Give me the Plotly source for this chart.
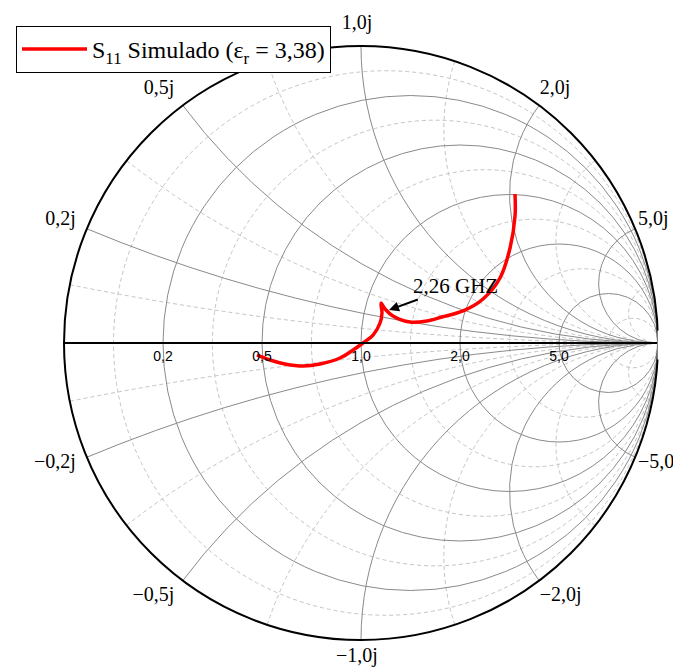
import plotly.graph_objects as go

# S11 simulated impedance (normalized)
s11_real = [0.480, 0.528, 0.587, 0.666, 0.751, 0.864, 0.947, 1.013, 1.083, 1.126,
            1.127, 1.101, 1.143, 1.218, 1.378, 1.548, 1.710, 1.966, 2.193, 2.215,
            1.843, 1.322, 0.992]
s11_imag = [-0.044, -0.067, -0.089, -0.108, -0.109, -0.088, -0.045, 0.0, 0.058, 0.153,
            0.231, 0.303, 0.267, 0.226, 0.201, 0.243, 0.326, 0.487, 0.803, 1.323,
            1.825, 2.063, 2.075]

major_r = [0.2, 0.5, 1.0, 2.0, 5.0]
major_x = [-5.0, -2.0, -1.0, -0.5, -0.2, 0.2, 0.5, 1.0, 2.0, 5.0]
minor_r = [0.0909, 0.333, 0.714, 1.4, 3.0, 11.0]
minor_x = [-10.1, -2.91, -1.387, -0.721, -0.343, -0.099, 0.099, 0.343, 0.721, 1.387, 2.91, 10.1]

W, H = 681, 670
domain = dict(x=[56 / W, 650 / W], y=[1 - 632 / H, 1 - 38 / H])
label_domain = dict(x=[52 / W, 646 / W], y=[1 - 626 / H, 1 - 32 / H])

fig = go.Figure()
fig.add_trace(go.Scattersmith(real=[], imag=[], subplot='smith', showlegend=False,
                              hoverinfo='skip'))
fig.add_trace(go.Scattersmith(
    real=s11_real, imag=s11_imag, subplot='smith2', mode='lines',
    line=dict(color='#ff0000', width=3.5, shape='spline'),
    name='S<sub>11</sub> Simulado (ε<sub>r</sub> = 3,38)', showlegend=True))
fig.add_trace(go.Scattersmith(real=[], imag=[], subplot='smith3', showlegend=False,
                              hoverinfo='skip'))

fig.update_layout(
    width=W, height=H, margin=dict(l=0, r=0, t=0, b=0),
    paper_bgcolor='white', separators=',.', showlegend=True,
    smith=dict(
        domain=domain, bgcolor='white',
        realaxis=dict(tickvals=minor_r, showticklabels=False, gridcolor='#c4c4c4',
                      griddash='4px,3px', gridwidth=1, showline=False, ticks=''),
        imaginaryaxis=dict(tickvals=minor_x, showticklabels=False, gridcolor='#c4c4c4',
                           griddash='4px,3px', gridwidth=1, showline=False, ticks='')),
    smith2=dict(
        domain=domain, bgcolor='rgba(0,0,0,0)',
        realaxis=dict(tickvals=major_r, tickformat='.1f', tickangle=0, side='bottom',
                      tickfont=dict(family='Liberation Sans', size=14, color='black'),
                      gridcolor='#8a8a8a', gridwidth=1, linecolor='black', linewidth=2,
                      ticks=''),
        imaginaryaxis=dict(tickvals=major_x, showticklabels=False,
                           gridcolor='#8a8a8a', gridwidth=1, linecolor='black', linewidth=2,
                           ticks='')),
    smith3=dict(
        domain=label_domain, bgcolor='rgba(0,0,0,0)',
        realaxis=dict(tickvals=major_r, showticklabels=False, showgrid=False,
                      showline=False, ticks=''),
        imaginaryaxis=dict(tickvals=major_x, tickformat='.1f', ticksuffix='j',
                           tickfont=dict(family='Liberation Serif', size=20, color='black'),
                           showgrid=False, showline=False,
                           ticks='outside', ticklen=3, tickcolor='rgba(0,0,0,0)')),
    legend=dict(x=8 / W, y=1 - 18 / H, xanchor='left', yanchor='top', itemwidth=65,
                bgcolor='white', bordercolor='black', borderwidth=1,
                font=dict(family='Liberation Serif', size=24, color='black')),
    annotations=[
        dict(x=381 / W, y=1 - 302 / H, xref='paper', yref='paper',
             text='2,26 GHZ', showarrow=True, ax=66, ay=-24,
             arrowhead=2, arrowsize=1, arrowwidth=2, arrowcolor='black',
             font=dict(family='Liberation Serif', size=21, color='black')),
        dict(x=671 / W, y=1 - 337 / H, xref='paper', yref='paper', text='&nbsp;',
             showarrow=False, width=18, height=26, bgcolor='white',
             font=dict(size=10)),
    ],
)

fig.write_html('out.html')
